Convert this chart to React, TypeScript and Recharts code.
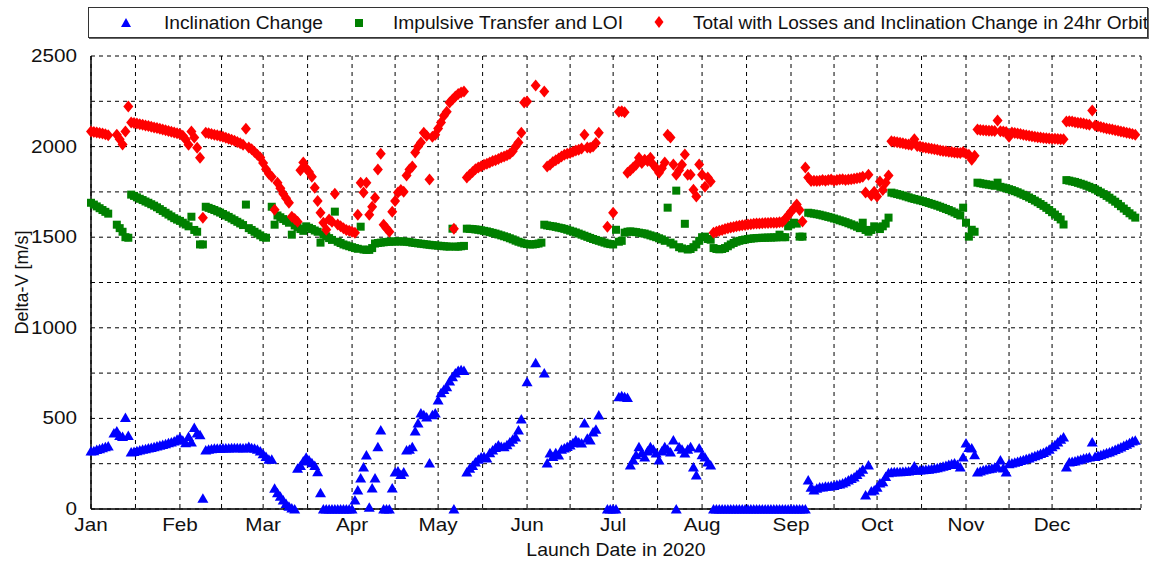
import React from 'react';
import { ScatterChart, Scatter, XAxis, YAxis, CartesianGrid } from 'recharts';

// day of year (0 = Jan 1 2020) -> delta-v in m/s
const inclinationChange: [number, number][] = [
  [0, 320], [1, 322], [2, 328], [3, 333], [4, 338], [5, 343], [6, 348],
  [8, 420], [9, 430], [10, 405], [11, 400], [12, 505], [13, 405],
  [14, 315], [15, 318], [16, 322], [17, 326], [18, 330], [19, 333], [20, 337], [21, 340], [22, 344],
  [23, 348], [24, 352], [25, 356], [26, 360], [27, 365], [28, 370], [29, 375], [30, 385], [31, 395],
  [32, 380], [33, 365], [34, 400], [35, 370], [36, 450], [37, 420], [38, 410], [39, 60],
  [40, 325], [41, 330], [42, 333], [43, 335], [44, 335], [45, 335], [46, 336], [47, 337], [48, 337],
  [49, 338], [50, 338], [51, 338], [52, 338], [53, 337], [54, 338], [55, 345], [56, 338], [57, 335],
  [58, 330], [59, 320], [60, 305], [61, 290], [62, 275], [63, 275],
  [64, 115], [65, 90], [66, 70], [67, 50], [68, 30], [69, 15], [70, 5], [71, 0],
  [72, 225], [73, 240], [74, 265], [75, 285], [76, 270], [77, 255], [78, 240], [79, 205], [80, 90],
  [81, 0], [82, 0], [83, 0], [84, 0], [85, 0], [86, 0], [87, 0], [88, 0], [89, 0], [90, 0], [91, 0], [92, 50],
  [93, 105], [94, 171], [95, 232], [96, 298], [97, 10], [98, 116], [99, 171], [100, 343], [101, 436],
  [102, 0], [103, 0], [104, 0], [105, 116], [106, 204], [107, 210], [108, 190], [109, 204], [110, 326],
  [111, 330], [112, 343], [113, 431], [114, 475], [115, 530], [116, 520], [117, 508], [118, 254],
  [119, 520], [120, 530], [121, 602], [122, 641], [123, 660], [124, 674], [125, 707], [126, 730],
  [126.5, 0], [127, 751], [128, 765], [129, 768], [130, 765],
  [131, 204], [132, 225], [133, 240], [134, 260], [135, 275], [136, 287], [137, 290], [138, 282],
  [139, 310], [140, 326], [141, 340], [142, 353], [143, 345], [144, 343], [145, 355], [146, 370],
  [147, 385], [148, 398], [149, 436], [150, 497], [152, 702], [155, 807], [158, 751],
  [159, 254], [160, 309], [161, 290], [162, 310], [163, 298], [164, 330], [165, 337], [166, 345],
  [167, 353], [168, 365], [169, 381], [170, 370], [171, 364], [172, 475], [173, 390], [174, 381],
  [175, 425], [176, 440], [177, 519], [180, 0], [181, 0], [182, 0], [183, 0],
  [184, 619], [185, 625], [186, 620], [187, 615],
  [188, 243], [189, 270], [190, 300], [191, 343], [192, 310], [193, 287], [194, 320], [195, 343],
  [196, 330], [197, 309], [198, 270], [199, 320], [200, 343], [201, 330], [202, 315], [203, 381],
  [204, 0], [205, 343], [206, 330], [207, 309], [208, 330], [209, 343], [210, 232], [211, 188],
  [212, 337], [213, 300], [214, 287], [215, 260], [216, 243],
  [217, 0], [218, 0], [219, 0], [220, 0], [221, 0], [222, 0], [223, 0], [224, 0], [225, 0], [226, 0],
  [227, 0], [228, 0], [229, 0], [230, 0], [231, 0], [232, 0], [233, 0], [234, 0], [235, 0], [236, 0],
  [237, 0], [238, 0], [239, 0], [240, 0], [241, 0], [242, 0], [243, 0], [244, 0], [245, 0], [246, 0],
  [247, 0], [248, 0], [249, 0],
  [250, 160], [251, 120], [252, 105], [253, 115], [254, 122], [255, 122], [256, 125], [257, 125],
  [258, 128], [259, 130], [260, 135], [261, 138], [262, 143], [263, 150], [264, 160], [265, 168],
  [266, 177], [267, 190], [268, 204], [269, 220], [270, 77], [271, 243], [272, 100], [273, 105],
  [274, 120], [275, 143], [276, 150], [277, 180], [278, 200],
  [279, 204], [280, 205], [281, 205], [282, 206], [283, 207], [284, 208], [285, 210], [286, 212],
  [287, 237], [288, 214], [289, 215], [290, 216], [291, 218], [292, 220], [293, 222], [294, 225],
  [295, 228], [296, 232], [297, 236], [298, 240], [299, 245], [300, 250], [301, 254], [302, 245],
  [303, 232], [304, 287], [305, 364], [306, 340], [307, 337], [308, 300],
  [309, 204], [310, 210], [311, 215], [312, 220], [313, 222], [314, 225], [315, 230], [316, 235],
  [317, 270], [318, 226], [319, 204], [320, 250], [321, 254], [322, 258], [323, 262], [324, 267],
  [325, 272], [326, 277], [327, 282], [328, 288], [329, 294], [330, 300], [331, 306], [332, 312],
  [333, 320], [334, 330], [335, 343], [336, 355], [337, 370], [338, 385], [339, 398],
  [340, 232], [341, 260], [342, 262], [343, 265], [344, 270], [345, 275], [346, 280], [347, 283],
  [348, 287], [349, 370], [350, 290], [351, 295], [352, 300], [353, 305], [354, 310], [355, 315],
  [356, 322], [357, 328], [358, 335], [359, 342], [360, 350], [361, 358], [362, 365], [363, 375], [364, 380],
];

const impulsiveTransfer: [number, number][] = [
  [0, 1690], [1, 1680], [2, 1670], [3, 1660], [4, 1650], [5, 1640], [6, 1630],
  [9, 1569], [10, 1550], [11, 1530], [12, 1500], [13, 1497],
  [14, 1735], [15, 1728], [16, 1720], [17, 1712], [18, 1705], [19, 1697], [20, 1690], [21, 1682],
  [22, 1674], [23, 1665], [24, 1655], [25, 1645], [26, 1635], [27, 1625], [28, 1615], [29, 1605],
  [30, 1597], [31, 1590], [32, 1580], [33, 1570], [34, 1560], [35, 1613], [36, 1540], [37, 1530],
  [38, 1460], [39, 1460],
  [40, 1668], [41, 1662], [42, 1656], [43, 1650], [44, 1643], [45, 1636], [46, 1628], [47, 1620],
  [48, 1612], [49, 1603], [50, 1594], [51, 1585], [52, 1576], [53, 1567], [54, 1680], [55, 1550],
  [56, 1540], [57, 1530], [58, 1520], [59, 1510], [60, 1500], [61, 1497],
  [63, 1668], [64, 1569], [65, 1620], [66, 1610], [67, 1600], [68, 1590], [69, 1580], [70, 1514],
  [71, 1565], [72, 1555], [73, 1545], [74, 1535], [75, 1560], [76, 1552], [77, 1545], [78, 1537],
  [79, 1530], [80, 1470], [81, 1515], [82, 1505], [83, 1495], [84, 1485], [85, 1641], [86, 1475],
  [87, 1468], [88, 1460], [89, 1455], [90, 1450], [91, 1445], [92, 1440], [93, 1436], [94, 1558],
  [95, 1432], [96, 1430], [97, 1430], [98, 1440],
  [99, 1465], [100, 1468], [101, 1470], [102, 1472], [103, 1474], [104, 1475], [105, 1476],
  [106, 1476], [107, 1477], [108, 1477], [109, 1476], [110, 1475], [111, 1473], [112, 1470],
  [113, 1468], [114, 1466], [115, 1464], [116, 1462], [117, 1460], [118, 1458], [119, 1456],
  [120, 1455], [121, 1453], [122, 1452], [123, 1450], [124, 1449], [125, 1448], [126, 1547],
  [127, 1448], [128, 1448], [129, 1450], [130, 1452],
  [131, 1547], [132, 1546], [133, 1545], [134, 1543], [135, 1541], [136, 1538], [137, 1535],
  [138, 1532], [139, 1528], [140, 1524], [141, 1520], [142, 1515], [143, 1510], [144, 1505],
  [145, 1500], [146, 1494], [147, 1488], [148, 1481], [149, 1475], [150, 1470], [151, 1465],
  [152, 1462], [153, 1460], [154, 1460], [155, 1462], [156, 1465], [157, 1470],
  [158, 1569], [159, 1565], [160, 1562], [161, 1560], [162, 1557], [163, 1553], [164, 1550],
  [165, 1546], [166, 1541], [167, 1536], [168, 1531], [169, 1526], [170, 1520], [171, 1514],
  [172, 1508], [173, 1502], [174, 1496], [175, 1490], [176, 1485], [177, 1480], [178, 1475],
  [179, 1470], [180, 1465], [181, 1462], [182, 1460], [183, 1541], [184, 1475], [185, 1480],
  [186, 1525], [187, 1530], [188, 1532], [189, 1530], [190, 1528], [191, 1525], [192, 1522],
  [193, 1520], [194, 1515], [195, 1510], [196, 1505], [197, 1500], [198, 1494], [199, 1488],
  [200, 1480], [201, 1663], [202, 1470], [203, 1460], [204, 1757], [205, 1445], [206, 1438],
  [207, 1574], [208, 1432], [209, 1435], [210, 1445], [211, 1460], [212, 1480], [213, 1500],
  [214, 1503], [215, 1490], [216, 1486],
  [217, 1440], [218, 1435], [219, 1433], [220, 1435], [221, 1440], [222, 1450], [223, 1460],
  [224, 1468], [225, 1475], [226, 1480], [227, 1484], [228, 1487], [229, 1490], [230, 1492],
  [231, 1494], [232, 1495], [233, 1496], [234, 1497], [235, 1497], [236, 1498], [237, 1498],
  [238, 1499], [239, 1499], [240, 1514], [241, 1500], [242, 1500], [243, 1560], [244, 1570],
  [245, 1580], [246, 1575], [247, 1503], [248, 1503],
  [250, 1635], [251, 1632], [252, 1630], [253, 1627], [254, 1624], [255, 1620], [256, 1616],
  [257, 1612], [258, 1608], [259, 1603], [260, 1598], [261, 1593], [262, 1588], [263, 1583],
  [264, 1577], [265, 1571], [266, 1565], [267, 1558], [268, 1550], [269, 1580], [270, 1540],
  [271, 1530], [272, 1540], [273, 1560], [274, 1555], [275, 1545], [276, 1560], [277, 1575], [278, 1608],
  [279, 1746], [280, 1742], [281, 1738], [282, 1734], [283, 1730], [284, 1725], [285, 1720],
  [286, 1715], [287, 1711], [288, 1707], [289, 1703], [290, 1699], [291, 1694], [292, 1689],
  [293, 1684], [294, 1679], [295, 1674], [296, 1668], [297, 1662], [298, 1656], [299, 1650],
  [300, 1643], [301, 1636], [302, 1628], [303, 1620], [304, 1663], [305, 1580], [306, 1503],
  [307, 1541], [308, 1530],
  [309, 1801], [310, 1798], [311, 1795], [312, 1792], [313, 1790], [314, 1787], [315, 1784],
  [316, 1801], [317, 1778], [318, 1774], [319, 1770], [320, 1765], [321, 1760], [322, 1754],
  [323, 1748], [324, 1741], [325, 1734], [326, 1727], [327, 1719], [328, 1711], [329, 1702],
  [330, 1693], [331, 1683], [332, 1673], [333, 1662], [334, 1650], [335, 1638], [336, 1625],
  [337, 1612], [338, 1598], [339, 1570],
  [340, 1815], [341, 1812], [342, 1808], [343, 1805], [344, 1800], [345, 1795], [346, 1790],
  [347, 1784], [348, 1778], [349, 1771], [350, 1764], [351, 1756], [352, 1747], [353, 1738],
  [354, 1728], [355, 1718], [356, 1707], [357, 1696], [358, 1684], [359, 1671], [360, 1658],
  [361, 1645], [362, 1632], [363, 1620], [364, 1608],
];

const totalWithLosses: [number, number][] = [
  [0, 2083], [1, 2080], [2, 2078], [3, 2075], [4, 2072], [5, 2068], [6, 2062],
  [9, 2066], [10, 2040], [11, 2011], [12, 2083], [13, 2221],
  [14, 2133], [15, 2130], [16, 2127], [17, 2124], [18, 2120], [19, 2117], [20, 2113], [21, 2110],
  [22, 2106], [23, 2102], [24, 2098], [25, 2094], [26, 2090], [27, 2086], [28, 2082], [29, 2078],
  [30, 2074], [31, 2070], [32, 2060], [33, 2039], [34, 2010], [35, 2083], [36, 2050], [37, 1994],
  [38, 1939], [39, 1608],
  [40, 2077], [41, 2073], [42, 2070], [43, 2066], [44, 2062], [45, 2058], [46, 2054], [47, 2049],
  [48, 2044], [49, 2038], [50, 2032], [51, 2025], [52, 2018], [53, 2010], [54, 2099], [55, 1995],
  [56, 1985], [57, 1970], [58, 1955], [59, 1940], [60, 1910], [61, 1875], [62, 1850], [63, 1834],
  [64, 1652], [65, 1801], [66, 1770], [67, 1740], [68, 1715], [69, 1690], [70, 1613], [71, 1600],
  [72, 1585], [73, 1870], [74, 1912], [75, 1880], [76, 1860], [77, 1834], [78, 1773], [79, 1700],
  [80, 1635], [81, 1580], [82, 1541], [83, 1597], [84, 1585], [85, 1740], [86, 1570], [87, 1560],
  [88, 1550], [89, 1540], [90, 1535], [91, 1530], [92, 1525], [93, 1624], [94, 1801], [95, 1746],
  [96, 1801], [97, 1624], [98, 1668], [99, 1718], [100, 1873], [101, 1961], [102, 1569], [103, 1550],
  [104, 1530], [105, 1641], [106, 1700], [107, 1746], [108, 1760], [109, 1751], [110, 1840],
  [111, 1873], [112, 1890], [113, 1967], [114, 2000], [115, 2022], [116, 2077], [117, 2060],
  [118, 1818], [119, 2055], [120, 2066], [121, 2100], [122, 2133], [123, 2170], [124, 2193],
  [125, 2243], [126, 2260], [126.5, 1547], [127, 2276], [128, 2290], [129, 2298], [130, 2304],
  [131, 1829], [132, 1845], [133, 1860], [134, 1875], [135, 1885], [136, 1892], [137, 1900],
  [138, 1905], [139, 1912], [140, 1920], [141, 1925], [142, 1932], [143, 1940], [144, 1945],
  [145, 1952], [146, 1960], [147, 1975], [148, 2000], [149, 2022], [150, 2077], [151, 2243],
  [152, 2249], [155, 2337], [158, 2304],
  [159, 1890], [160, 1900], [161, 1915], [162, 1925], [163, 1935], [164, 1945], [165, 1955],
  [166, 1960], [167, 1965], [168, 1972], [169, 1978], [170, 1983], [171, 1990], [172, 2066],
  [173, 1995], [174, 1994], [175, 2000], [176, 2020], [177, 2077], [180, 1558], [182, 1635],
  [184, 2193], [185, 2195], [186, 2190],
  [187, 1856], [188, 1870], [189, 1885], [190, 1900], [191, 1939], [192, 1910], [193, 1928],
  [194, 1920], [195, 1939], [196, 1900], [197, 1880], [198, 1856], [199, 1880], [200, 1912],
  [201, 2066], [202, 2050], [203, 1901], [204, 1845], [205, 1870], [206, 1900], [207, 1956],
  [208, 1845], [209, 1845], [210, 1762], [211, 1724], [212, 1901], [213, 1845], [214, 1779],
  [215, 1830], [216, 1807],
  [217, 1525], [218, 1530], [219, 1535], [220, 1540], [221, 1545], [222, 1550], [223, 1553],
  [224, 1556], [225, 1560], [226, 1563], [227, 1566], [228, 1568], [229, 1570], [230, 1572],
  [231, 1574], [232, 1575], [233, 1576], [234, 1577], [235, 1578], [236, 1579], [237, 1580],
  [238, 1580], [239, 1580], [240, 1582], [241, 1584], [242, 1600], [243, 1620], [244, 1640],
  [245, 1660], [246, 1680], [247, 1650], [248, 1586],
  [249, 1884], [250, 1830], [251, 1810], [252, 1812], [253, 1810], [254, 1812], [255, 1815],
  [256, 1812], [257, 1815], [258, 1818], [259, 1812], [260, 1815], [261, 1818], [262, 1820],
  [263, 1815], [264, 1818], [265, 1820], [266, 1822], [267, 1825], [268, 1828], [269, 1834],
  [270, 1746], [271, 1845], [272, 1730], [273, 1751], [274, 1724], [275, 1807], [276, 1760],
  [277, 1800], [278, 1840],
  [279, 2030], [280, 2027], [281, 2024], [282, 2021], [283, 2018], [284, 2015], [285, 2012],
  [286, 2009], [287, 2040], [288, 2003], [289, 2000], [290, 1997], [291, 1994], [292, 1991],
  [293, 1988], [294, 1985], [295, 1982], [296, 1979], [297, 1976], [298, 1974], [299, 1972],
  [300, 1970], [301, 1968], [302, 1966], [303, 1964], [304, 1970], [305, 1960], [306, 1955],
  [307, 1928], [308, 1950],
  [309, 2094], [310, 2092], [311, 2090], [312, 2089], [313, 2088], [314, 2087], [315, 2086],
  [316, 2144], [317, 2085], [318, 2083], [319, 2080], [320, 2055], [321, 2078], [322, 2075],
  [323, 2072], [324, 2069], [325, 2066], [326, 2063], [327, 2060], [328, 2057], [329, 2054],
  [330, 2052], [331, 2050], [332, 2048], [333, 2046], [334, 2045], [335, 2044], [336, 2043],
  [337, 2042], [338, 2041], [339, 2040],
  [340, 2138], [341, 2140], [342, 2138], [343, 2135], [344, 2132], [345, 2130], [346, 2127],
  [347, 2124], [348, 2120], [349, 2199], [350, 2116], [351, 2112], [352, 2108], [353, 2104],
  [354, 2100], [355, 2097], [356, 2094], [357, 2090], [358, 2087], [359, 2084], [360, 2080],
  [361, 2076], [362, 2073], [363, 2070], [364, 2066],
];

// month starts (labelled) and mid-month grid lines
const monthStarts = [0, 31, 60, 91, 121, 152, 182, 213, 244, 274, 305, 335];
const monthLabels = ['Jan', 'Feb', 'Mar', 'Apr', 'May', 'Jun', 'Jul', 'Aug', 'Sep', 'Oct', 'Nov', 'Dec'];
const midMonths = [15.5, 45.5, 75.5, 106, 136.5, 167, 197.5, 228.5, 259, 289.5, 320, 350.5];
const yTicks = [0, 250, 500, 750, 1000, 1250, 1500, 1750, 2000, 2250, 2500];

const xTicks = [...monthStarts, ...midMonths, 366].sort((a, b) => a - b);

const FONT = '"Liberation Sans", Arial, sans-serif';
const STRETCH = 1.15; // the source text is a bit wider than the font

const toPoints = (rows: [number, number][]) => rows.map(([day, dv]) => ({ day, dv }));

const Triangle = (p: any) => (
  <polygon points={`${p.cx},${p.cy - 5} ${p.cx - 5.5},${p.cy + 4.5} ${p.cx + 5.5},${p.cy + 4.5}`} fill="#0000ff" />
);
const Square = (p: any) => <rect x={p.cx - 4} y={p.cy - 4} width={8} height={8} fill="#008000" />;
const Diamond = (p: any) => (
  <polygon points={`${p.cx},${p.cy - 6} ${p.cx + 5},${p.cy} ${p.cx},${p.cy + 6} ${p.cx - 5},${p.cy}`} fill="#ff0000" />
);

const formatX = (v: number) => {
  const i = monthStarts.indexOf(v);
  return i >= 0 ? monthLabels[i] : '';
};
const formatY = (v: number) => (v % 500 === 0 ? String(v) : '');

const XTick = (p: any) => (
  <g transform={`translate(${p.x},${p.y}) scale(${STRETCH},1)`}>
    <text x={0} y={0} dy={12} textAnchor="middle" fontSize={18} fontFamily={FONT} fill="#111">
      {formatX(p.payload.value)}
    </text>
  </g>
);
const YTick = (p: any) => (
  <g transform={`translate(${p.x},${p.y}) scale(${STRETCH},1)`}>
    <text x={0} y={0} dy={6} textAnchor="end" fontSize={18} fontFamily={FONT} fill="#111">
      {formatY(p.payload.value)}
    </text>
  </g>
);

const LegendBox = () => (
  <div
    style={{
      position: 'absolute',
      left: 88,
      top: 7,
      width: 1058,
      height: 29,
      border: '1px solid #333',
      boxShadow: '1px 1px 0 #666',
      background: '#fff',
      overflow: 'hidden',
    }}
  >
    <svg width={1058} height={29} style={{ position: 'absolute', left: 0, top: 0 }}>
      <polygon points="37,10 32,19 42,19" fill="#0000ff" />
      <rect x={266} y={11} width={8} height={8} fill="#008000" />
      <polygon points="570,8 574.5,14 570,20 565.5,14" fill="#ff0000" />
      <text x={75} y={21} fontSize={18} fontFamily={FONT} fill="#111" textLength={159} lengthAdjust="spacingAndGlyphs">
        Inclination Change
      </text>
      <text x={304} y={21} fontSize={18} fontFamily={FONT} fill="#111" textLength={230} lengthAdjust="spacingAndGlyphs">
        Impulsive Transfer and LOI
      </text>
      <text x={604} y={21} fontSize={18} fontFamily={FONT} fill="#111" textLength={455} lengthAdjust="spacingAndGlyphs">
        Total with Losses and Inclination Change in 24hr Orbit
      </text>
    </svg>
  </div>
);

export default function App() {
  return (
    <div style={{ position: 'absolute', left: 0, top: 0, width: 1156, height: 562, background: '#fff' }}>
      <ScatterChart width={1156} height={562} margin={{ top: 56, right: 15, left: 0, bottom: 0 }}>
        <CartesianGrid stroke="#000" strokeDasharray="4 4" strokeWidth={1} />
        <XAxis
          type="number"
          dataKey="day"
          domain={[0, 366]}
          ticks={xTicks}
          interval={0}
          tickLine={false}
          axisLine={{ stroke: '#000', strokeWidth: 1.5 }}
          height={53}
          tick={XTick}
          tickMargin={4}
          label={(props: any) => {
            const vb = props.viewBox;
            const cx = vb.x + vb.width / 2;
            const cy = vb.y + 47;
            return (
              <g transform={`translate(${cx},${cy}) scale(1.08,1)`}>
                <text x={0} y={0} textAnchor="middle" fontSize={18} fontFamily={FONT} fill="#111">
                  Launch Date in 2020
                </text>
              </g>
            );
          }}
        />
        <YAxis
          type="number"
          dataKey="dv"
          domain={[0, 2500]}
          ticks={yTicks}
          interval={0}
          tickLine={false}
          axisLine={{ stroke: '#000', strokeWidth: 1.5 }}
          width={91}
          tick={YTick}
          tickMargin={8}
          label={(props: any) => {
            const vb = props.viewBox;
            const cx = vb.x + 22;
            const cy = vb.y + vb.height / 2;
            return (
              <text x={cx} y={cy} transform={`rotate(-90 ${cx} ${cy})`} textAnchor="middle" dominantBaseline="central" fontSize={18} fontFamily={FONT} fill="#111">
                Delta-V [m/s]
              </text>
            );
          }}
        />
        <Scatter name="Inclination Change" data={toPoints(inclinationChange)} shape={Triangle} isAnimationActive={false} />
        <Scatter name="Impulsive Transfer and LOI" data={toPoints(impulsiveTransfer)} shape={Square} isAnimationActive={false} />
        <Scatter name="Total with Losses and Inclination Change in 24hr Orbit" data={toPoints(totalWithLosses)} shape={Diamond} isAnimationActive={false} />
      </ScatterChart>
      <LegendBox />
    </div>
  );
}
